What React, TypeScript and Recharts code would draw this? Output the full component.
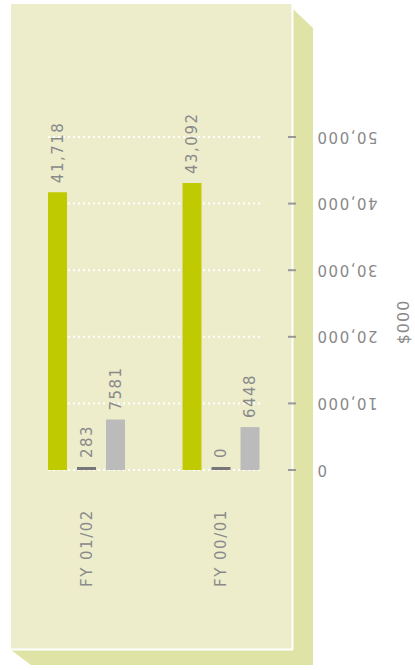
import { Bar, BarChart, CartesianGrid, LabelList, XAxis, YAxis } from 'recharts';

const categories = ['FY 01/02', 'FY 00/01'];
const mainValues = [41718, 43092];
const smallValues = [283, 0];
const otherValues = [7581, 6448];
const yTicks = [0, 10000, 20000, 30000, 40000, 50000];

const FONT = '"DejaVu Sans", sans-serif';
const TEXT = '#8a8a8a';

const chartData = categories.map((label, i) => ({
  label,
  main: mainValues[i],
  small: smallValues[i],
  other: otherValues[i],
}));

// 値ラベル（下から上へ縦書き）
const makeValueLabel = (withComma: boolean) => (props: any) => {
  const x = Number(props.x) + Number(props.width) / 2;
  const y = Number(props.y) - 9;
  const v = Number(props.value);
  return (
    <text
      x={x}
      y={y}
      dy="0.36em"
      textAnchor="start"
      transform={`rotate(-90 ${x} ${y})`}
      fontFamily={FONT}
      fontSize={15}
      letterSpacing={1.5}
      fill={TEXT}
    >
      {withComma ? v.toLocaleString('en-US') : String(v)}
    </text>
  );
};

// Y軸目盛（180度回転）
function YTick(props: any) {
  const { x, y, payload } = props;
  return (
    <text
      x={x}
      y={y}
      dy="0.36em"
      textAnchor="end"
      transform={`rotate(180 ${x} ${y})`}
      fontFamily={FONT}
      fontSize={15}
      letterSpacing={1.5}
      fill={TEXT}
    >
      {Number(payload.value).toLocaleString('en-US')}
    </text>
  );
}

// X軸カテゴリ（下から上へ縦書き）
function XTick(props: any) {
  const { x, y, payload } = props;
  return (
    <text
      x={x}
      y={y}
      dy="0.36em"
      textAnchor="start"
      transform={`rotate(-90 ${x} ${y})`}
      fontFamily={FONT}
      fontSize={15}
      letterSpacing={1.5}
      fill={TEXT}
    >
      {payload.value}
    </text>
  );
}

export default function App() {
  return (
    <div style={{ position: 'fixed', left: 0, top: 0, width: 415, height: 670, background: '#ffffff' }}>
      {/* パネル背景と影 */}
      <svg width={415} height={670} style={{ position: 'absolute', left: 0, top: 0 }}>
        <polygon points="293,9 313,28 313,665 31,665 11,650 293,650" fill="#dfe3a6" />
        <rect x={11} y={4} width={281} height={645} fill="#ededcc" />
        <line x1={292.5} y1={4} x2={292.5} y2={650} stroke="#ffffff" strokeWidth={2} />
        <line x1={11} y1={649.5} x2={293} y2={649.5} stroke="#ffffff" strokeWidth={2} />
        <text
          x={403}
          y={322}
          dy="0.36em"
          textAnchor="middle"
          transform="rotate(-90 403 322)"
          fontFamily={FONT}
          fontSize={16}
          letterSpacing={1}
          fill={TEXT}
        >
          $000
        </text>
      </svg>
      <div style={{ position: 'absolute', left: 0, top: 0 }}>
        <BarChart
          width={415}
          height={670}
          data={chartData}
          margin={{ top: 137, right: 0, left: 19, bottom: 70 }}
          barCategoryGap={29}
          barGap={10}
        >
          <CartesianGrid
            vertical={false}
            horizontal={(p: any) => (
              <line
                key={p.key ?? `${p.y1}`}
                x1={p.x1 + 29}
                x2={p.x2 - 26}
                y1={p.y1}
                y2={p.y2}
                stroke="#ffffff"
                strokeWidth={2}
                strokeDasharray="2 3"
              />
            )}
          />
          <XAxis
            dataKey="label"
            axisLine={false}
            tickLine={false}
            tickSize={0}
            tickMargin={117}
            height={130}
            interval={0}
            tick={(p: any) => <XTick {...p} />}
          />
          <YAxis
            orientation="right"
            domain={[0, 50000]}
            ticks={yTicks}
            width={127}
            axisLine={false}
            tickSize={8}
            tickMargin={20}
            tickLine={{ stroke: '#999999', strokeWidth: 2 }}
            tick={(p: any) => <YTick {...p} />}
          />
          <Bar dataKey="main" fill="#bfcb00" isAnimationActive={false}>
            <LabelList dataKey="main" content={makeValueLabel(true)} />
          </Bar>
          <Bar dataKey="small" fill="#777777" minPointSize={3} isAnimationActive={false}>
            <LabelList dataKey="small" content={makeValueLabel(false)} />
          </Bar>
          <Bar dataKey="other" fill="#bbbbbb" isAnimationActive={false}>
            <LabelList dataKey="other" content={makeValueLabel(false)} />
          </Bar>
        </BarChart>
      </div>
    </div>
  );
}
